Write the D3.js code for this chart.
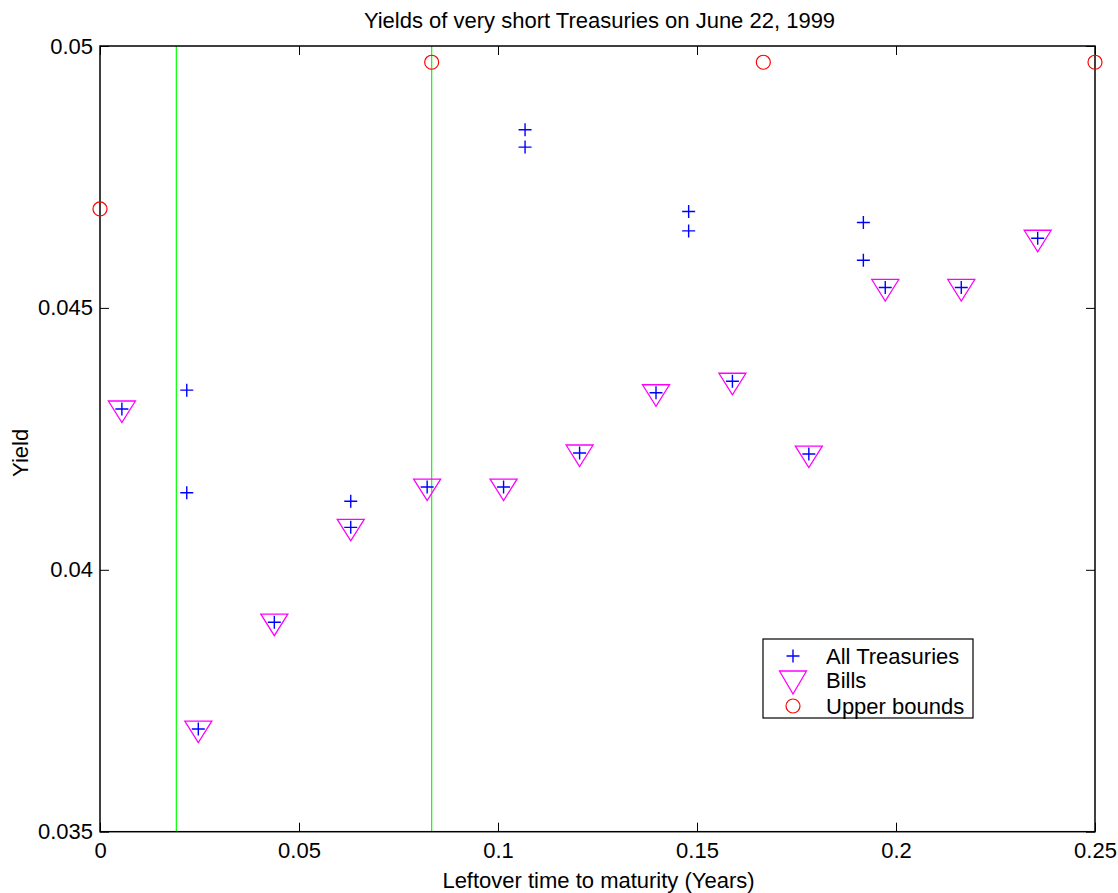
<!DOCTYPE html>
<html>
<head>
<meta charset="utf-8">
<script src="https://cdn.jsdelivr.net/npm/d3@7"></script>
<style>
  html, body { margin: 0; padding: 0; background: #fff; }
  svg { display: block; font-family: "Liberation Sans", Arial, Helvetica, sans-serif; }
</style>
</head>
<body>
<svg id="chart" width="1118" height="893"></svg>
<script>
// ---- data (years to maturity, yield) ----
const treasuryX = [0.0055, 0.0218, 0.0218, 0.0247, 0.0438, 0.0630, 0.0630, 0.0822, 0.1014, 0.1068, 0.1068, 0.1205, 0.1397, 0.1479, 0.1479, 0.1589, 0.1781, 0.1918, 0.1918, 0.1973, 0.2164, 0.2356];
const treasuryY = [0.04307, 0.04343, 0.04147, 0.03696, 0.03900, 0.04131, 0.04081, 0.04158, 0.04158, 0.04840, 0.04807, 0.04223, 0.04338, 0.04684, 0.04647, 0.04360, 0.04221, 0.04663, 0.04591, 0.04539, 0.04539, 0.04633];
const billX = [0.0055, 0.0247, 0.0438, 0.0630, 0.0822, 0.1014, 0.1205, 0.1397, 0.1589, 0.1781, 0.1973, 0.2164, 0.2356];
const billY = [0.04307, 0.03696, 0.03900, 0.04081, 0.04158, 0.04158, 0.04223, 0.04338, 0.04360, 0.04221, 0.04539, 0.04539, 0.04633];
const boundX = [0, 1/12, 1/6, 0.25];
const boundY = [0.04689, 0.04969, 0.04969, 0.04969];
const verticalLinesX = [7/365, 1/12];
const xTicks = [0, 0.05, 0.1, 0.15, 0.2, 0.25];
const xTickLabels = ["0", "0.05", "0.1", "0.15", "0.2", "0.25"];
const yTicks = [0.035, 0.04, 0.045, 0.05];
const yTickLabels = ["0.035", "0.04", "0.045", "0.05"];
const legendNames = ["All Treasuries", "Bills", "Upper bounds"];
const titleText = "Yields of very short Treasuries on June 22, 1999";
const xLabelText = "Leftover time to maturity (Years)";
const yLabelText = "Yield";

// ---- layout ----
const svg = d3.select("#chart");
const L = 100, T = 46, R = 1095, B = 831.7;
const x = d3.scaleLinear().domain([0, 0.25]).range([L, R]);
const y = d3.scaleLinear().domain([0.035, 0.05]).range([B, T]);
const fontSize = 22;

// vertical green lines
svg.append("g").selectAll("line").data(verticalLinesX).join("line")
  .attr("x1", d => x(d)).attr("x2", d => x(d))
  .attr("y1", T).attr("y2", B)
  .attr("stroke", "#00ff00").attr("stroke-width", 1.2);

// axes
const tickLen = 9;
const xAxisB = d3.axisBottom(x).tickValues(xTicks).tickFormat((d, i) => xTickLabels[i]).tickSizeInner(-tickLen).tickSizeOuter(0).tickPadding(11);
const xAxisT = d3.axisTop(x).tickValues(xTicks).tickFormat("").tickSizeInner(-tickLen).tickSizeOuter(0);
const yAxisL = d3.axisLeft(y).tickValues(yTicks).tickFormat((d, i) => yTickLabels[i]).tickSizeInner(-tickLen).tickSizeOuter(0).tickPadding(7);
const yAxisR = d3.axisRight(y).tickValues(yTicks).tickFormat("").tickSizeInner(-tickLen).tickSizeOuter(0);

function styleAxis(g) {
  g.select(".domain").remove();
  g.selectAll(".tick line").attr("stroke", "#000").attr("stroke-width", 1);
  g.selectAll(".tick text").attr("fill", "#000").style("font-size", fontSize + "px").style("font-family", "'Liberation Sans', Arial, sans-serif");
}
svg.append("g").attr("transform", `translate(0,${B})`).call(xAxisB).call(styleAxis);
svg.append("g").attr("transform", `translate(0,${T})`).call(xAxisT).call(styleAxis);
svg.append("g").attr("transform", `translate(${L},0)`).call(yAxisL).call(styleAxis);
svg.append("g").attr("transform", `translate(${R},0)`).call(yAxisR).call(styleAxis);

// frame
svg.append("rect").attr("x", L).attr("y", T).attr("width", R - L).attr("height", B - T)
  .attr("fill", "none").attr("stroke", "#000").attr("stroke-width", 1.5);

// markers
const triPath = (cx, cy) => `M${cx - 13.5},${cy - 8}L${cx + 13.5},${cy - 8}L${cx},${cy + 13.5}Z`;
const plusPath = (cx, cy) => `M${cx - 6.5},${cy}L${cx + 6.5},${cy}M${cx},${cy - 6.5}L${cx},${cy + 6.5}`;

svg.append("g").selectAll("path").data(billX).join("path")
  .attr("d", (d, i) => triPath(x(d), y(billY[i])))
  .attr("fill", "none").attr("stroke", "#ff00ff").attr("stroke-width", 1.3);

svg.append("g").selectAll("path").data(treasuryX).join("path")
  .attr("d", (d, i) => plusPath(x(d), y(treasuryY[i])))
  .attr("fill", "none").attr("stroke", "#0000ff").attr("stroke-width", 1.4);

svg.append("g").selectAll("circle").data(boundX).join("circle")
  .attr("cx", d => x(d)).attr("cy", (d, i) => y(boundY[i])).attr("r", 7)
  .attr("fill", "none").attr("stroke", "#ff0000").attr("stroke-width", 1.2);

// title and labels
svg.append("text").attr("x", (L + R) / 2 + 2).attr("y", 28).attr("text-anchor", "middle")
  .style("font-size", fontSize + "px").text(titleText);
svg.append("text").attr("x", (L + R) / 2 + 1).attr("y", 888).attr("text-anchor", "middle")
  .style("font-size", fontSize + "px").text(xLabelText);
svg.append("text").attr("transform", `translate(28,${(T + B) / 2 + 14}) rotate(-90)`).attr("text-anchor", "middle")
  .style("font-size", fontSize + "px").text(yLabelText);

// legend
const lg = svg.append("g").attr("transform", "translate(763,639)");
lg.append("rect").attr("width", 210).attr("height", 79).attr("fill", "#fff").attr("stroke", "#000").attr("stroke-width", 1.2);
const rowY = [17, 41, 67];
const mx = 30;
lg.append("path").attr("d", plusPath(mx, rowY[0])).attr("stroke", "#0000ff").attr("stroke-width", 1.4).attr("fill", "none");
lg.append("path").attr("d", `M${mx - 13.5},${rowY[1] - 9}L${mx + 13.5},${rowY[1] - 9}L${mx},${rowY[1] + 14}Z`).attr("stroke", "#ff00ff").attr("stroke-width", 1.3).attr("fill", "none");
lg.append("circle").attr("cx", mx).attr("cy", rowY[2]).attr("r", 7).attr("stroke", "#ff0000").attr("stroke-width", 1.2).attr("fill", "none");
lg.selectAll("text.lbl").data(legendNames).join("text").attr("class", "lbl")
  .attr("x", 63).attr("y", (d, i) => rowY[i]).attr("dy", "0.36em")
  .style("font-size", fontSize + "px").text(d => d);
</script>
</body>
</html>
